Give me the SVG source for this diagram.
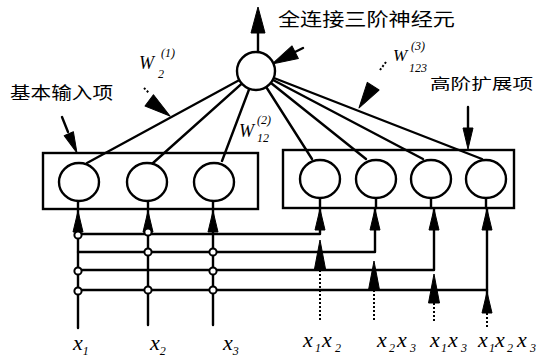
<svg xmlns="http://www.w3.org/2000/svg" width="546" height="359" viewBox="0 0 546 359">
<style>
.ln{stroke:#000;stroke-width:2.4;fill:none;stroke-linecap:round;stroke-linejoin:round}
.nd{stroke:#000;stroke-width:2.4;fill:#fff}
.box{stroke:#000;stroke-width:2.4;fill:none}
.jn{stroke:#000;stroke-width:2;fill:#fff}
.dash{stroke:#000;stroke-width:2;stroke-dasharray:2 2;fill:none}
.head{fill:#000;stroke:#000;stroke-width:1;stroke-linejoin:round}
.cjk{font-family:"Noto Sans CJK SC","Noto Sans",sans-serif;fill:#000}
.m{font-family:"Liberation Serif",serif;font-style:italic;fill:#000}
.s{font-size:12px}
</style>
<defs>
<path id="hs" d="M0,0 L5,21 L-5,21 Z"/>
<path id="hl" d="M0,0 L5.5,29 L-5.5,29 Z"/>
<path id="hb" d="M0,0 L7,26 L-7,26 Z"/>
</defs>

<g id="connectors">
  <!-- fan-in lines from output neuron -->
  <line class="ln" x1="256" y1="71" x2="87" y2="163"/>
  <line class="ln" x1="256" y1="71" x2="153" y2="163"/>
  <line class="ln" x1="256" y1="71" x2="222" y2="161"/>
  <line class="ln" x1="256" y1="71" x2="312" y2="159"/>
  <line class="ln" x1="256" y1="71" x2="366" y2="159"/>
  <line class="ln" x1="256" y1="71" x2="423" y2="159"/>
  <line class="ln" x1="256" y1="71" x2="482" y2="159"/>
  <!-- output arrow -->
  <line class="ln" x1="258" y1="52" x2="258" y2="25"/>
  <use href="#hb" class="head" transform="translate(258,7)"/>
  <!-- input arrow to output neuron -->
  <line class="ln" x1="303" y1="48" x2="285" y2="57"/>
  <use href="#hb" class="head" transform="translate(272,64) rotate(-117)"/>
  <!-- label arrows -->
  <line class="ln" x1="62" y1="117" x2="68" y2="132"/>
  <use href="#hs" class="head" transform="translate(77,153) rotate(157)"/>
  <line class="ln" x1="468" y1="107" x2="468" y2="128"/>
  <use href="#hs" class="head" transform="translate(468,149) rotate(180)"/>
  <line class="dash" x1="144" y1="88" x2="149" y2="93"/>
  <use href="#hb" class="head" transform="translate(170,116) rotate(127)"/>
  <line class="dash" x1="386" y1="62" x2="380" y2="70"/>
  <use href="#hb" class="head" transform="translate(359,108) rotate(213)"/>

  <!-- input columns -->
  <line class="ln" x1="78" y1="201" x2="78" y2="328"/>
  <line class="ln" x1="148" y1="201" x2="148" y2="325"/>
  <line class="ln" x1="213" y1="201" x2="213" y2="325"/>
  <use href="#hs" class="head" transform="translate(78,211)"/>
  <use href="#hs" class="head" transform="translate(148,211)"/>
  <use href="#hs" class="head" transform="translate(213,211)"/>
  <line class="ln" x1="320" y1="198" x2="320" y2="208"/>
  <line class="ln" x1="376" y1="198" x2="376" y2="208"/>
  <line class="ln" x1="431" y1="198" x2="431" y2="208"/>
  <line class="ln" x1="486" y1="198" x2="486" y2="208"/>

  <!-- product buses -->
  <path class="ln" d="M78,234 H320 V209"/>
  <path class="ln" d="M78,252 H375 V209"/>
  <path class="ln" d="M78,270 H434 V209"/>
  <path class="ln" d="M78,290 H487 V209"/>
  <use href="#hs" class="head" transform="translate(320,209)"/>
  <use href="#hs" class="head" transform="translate(375,209)"/>
  <use href="#hs" class="head" transform="translate(434,209)"/>
  <use href="#hs" class="head" transform="translate(487,209)"/>
  <line class="ln" x1="487" y1="290" x2="487" y2="312"/>

  <!-- product input arrows with dotted tails -->
  <use href="#hl" class="head" transform="translate(320,240)"/>
  <line class="dash" x1="320" y1="270" x2="320" y2="320"/>
  <use href="#hl" class="head" transform="translate(374,261)"/>
  <line class="dash" x1="374" y1="290" x2="374" y2="320"/>
  <use href="#hl" class="head" transform="translate(434,274)"/>
  <line class="dash" x1="434" y1="303" x2="434" y2="322"/>
  <use href="#hs" class="head" transform="translate(487,292)"/>
  <line class="dash" x1="487" y1="313" x2="487" y2="327"/>

  <!-- junction points -->
  <circle class="jn" cx="78" cy="235" r="3.6"/>
  <circle class="jn" cx="78" cy="271" r="3.6"/>
  <circle class="jn" cx="78" cy="291" r="3.6"/>
  <circle class="jn" cx="148" cy="232" r="3.6"/>
  <circle class="jn" cx="148" cy="252" r="3.6"/>
  <circle class="jn" cx="148" cy="290" r="3.6"/>
  <circle class="jn" cx="213" cy="252" r="3.6"/>
  <circle class="jn" cx="213" cy="271" r="3.6"/>
  <circle class="jn" cx="213" cy="290" r="3.6"/>
</g>

<g id="output-neuron">
  <circle class="nd" cx="256" cy="71" r="19"/>
  <text class="cjk" x="278" y="26" font-size="18" textLength="177" lengthAdjust="spacingAndGlyphs">全连接三阶神经元</text>
</g>

<g id="basic-inputs">
  <rect class="box" x="43" y="153" width="215" height="56"/>
  <ellipse class="nd" cx="79" cy="182" rx="20" ry="19"/>
  <ellipse class="nd" cx="147" cy="182" rx="20" ry="19"/>
  <ellipse class="nd" cx="214" cy="182" rx="20" ry="19"/>
  <text class="cjk" x="10" y="99" font-size="17" textLength="103" lengthAdjust="spacingAndGlyphs">基本输入项</text>
</g>

<g id="high-order-terms">
  <rect class="box" x="283" y="150" width="231" height="58"/>
  <ellipse class="nd" cx="320" cy="179" rx="20" ry="19"/>
  <ellipse class="nd" cx="376" cy="179" rx="20" ry="19"/>
  <ellipse class="nd" cx="431" cy="179" rx="20" ry="19"/>
  <ellipse class="nd" cx="486" cy="179" rx="20" ry="19"/>
  <text class="cjk" x="430" y="89" font-size="15" textLength="103" lengthAdjust="spacingAndGlyphs">高阶扩展项</text>
</g>

<g id="weights">
  <text class="m" x="139" y="69" font-size="18">W</text>
  <text class="m s" x="158" y="78">2</text>
  <text class="m s" x="161" y="57">(1)</text>
  <text class="m" x="239" y="137" font-size="18">W</text>
  <text class="m s" x="257" y="124">(2)</text>
  <text class="m s" x="257" y="142">12</text>
  <text class="m" x="393" y="61" font-size="17">W</text>
  <text class="m s" x="411" y="50">(3)</text>
  <text class="m s" x="409" y="72">123</text>
</g>

<g id="input-labels">
  <text class="m" x="73" y="350" font-size="22">x<tspan class="s" dy="5">1</tspan></text>
  <text class="m" x="150" y="350" font-size="22">x<tspan class="s" dy="5">2</tspan></text>
  <text class="m" x="223" y="350" font-size="22">x<tspan class="s" dy="5">3</tspan></text>
  <text class="m" font-size="22" y="347"><tspan x="303">x</tspan><tspan class="s" x="315" dy="5">1</tspan><tspan x="322" dy="-5">x</tspan><tspan class="s" x="335" dy="5">2</tspan></text>
  <text class="m" font-size="22" y="347"><tspan x="377">x</tspan><tspan class="s" x="389" dy="5">2</tspan><tspan x="397" dy="-5">x</tspan><tspan class="s" x="410" dy="5">3</tspan></text>
  <text class="m" font-size="22" y="347"><tspan x="430">x</tspan><tspan class="s" x="441" dy="5">1</tspan><tspan x="448" dy="-5">x</tspan><tspan class="s" x="461" dy="5">3</tspan></text>
  <text class="m" font-size="22" y="347"><tspan x="478">x</tspan><tspan class="s" x="489" dy="5">1</tspan><tspan x="495" dy="-5">x</tspan><tspan class="s" x="507" dy="5">2</tspan><tspan x="517" dy="-5">x</tspan><tspan class="s" x="530" dy="5">3</tspan></text>
</g>
</svg>
